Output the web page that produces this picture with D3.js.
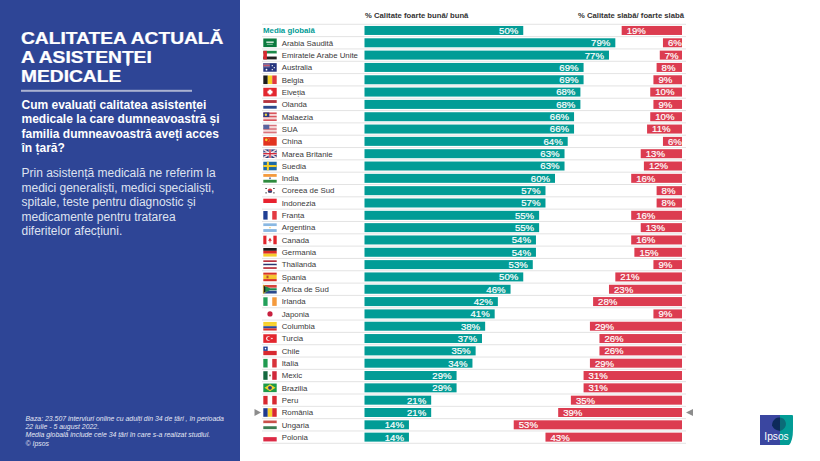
<!DOCTYPE html>
<html>
<head>
<meta charset="utf-8">
<script src="https://cdn.jsdelivr.net/npm/d3@7"></script>
<style>
  html, body { margin: 0; padding: 0; background: #fff; }
  svg { display: block; font-family: "Liberation Sans", Arial, sans-serif; }
</style>
</head>
<body>
<svg id="chart" width="820" height="461"></svg>
<script>
var countries = ["Media globală","Arabia Saudită","Emiratele Arabe Unite","Australia","Belgia","Elveția","Olanda","Malaezia","SUA","China","Marea Britanie","Suedia","India","Coreea de Sud","Indonezia","Franța","Argentina","Canada","Germania","Thailanda","Spania","Africa de Sud","Irlanda","Japonia","Columbia","Turcia","Chile","Italia","Mexic","Brazilia","Peru","România","Ungaria","Polonia"]
var goodValues = [50,79,77,69,69,68,68,66,66,64,63,63,60,57,57,55,55,54,54,53,50,46,42,41,38,37,35,34,29,29,21,21,14,14]
var poorValues = [19,6,7,8,9,10,9,10,11,6,13,12,16,8,8,16,13,16,15,9,21,23,28,9,29,26,26,29,31,31,35,39,53,43]
var goodTitle = "% Calitate foarte bună/ bună"
var poorTitle = "% Calitate slabă/ foarte slabă"
var highlighted = "România"

var titleLines = ["CALITATEA ACTUALĂ","A ASISTENȚEI","MEDICALE"]
var questionLines = ["Cum evaluați calitatea asistenței","medicale la care dumneavoastră și","familia dumneavoastră aveți acces","în țară?"]
var bodyLines = ["Prin asistență medicală ne referim la","medici generaliști, medici specialiști,","spitale, teste pentru diagnostic și","medicamente pentru tratarea","diferitelor afecțiuni."]
var noteLines = ["Baza: 23.507 interviuri online cu adulți din 34 de țări , în perioada","22 iulie - 5 august 2022.","Media globală include cele 34 țări în care s-a realizat studiul.","© Ipsos"]

// stripes of each flag: h = stacked, v = side by side
var flagStripes = {
  "Arabia Saudită": ["h", ["#0b7a3e"]],
  "Emiratele Arabe Unite": ["h", ["#1c8a4a","#ffffff","#222222"]],
  "Australia": ["h", ["#27367f"]],
  "Belgia": ["v", ["#1c1c1c","#f5d327","#e03a3e"]],
  "Elveția": ["h", ["#e3262e"]],
  "Olanda": ["h", ["#b5343f","#ffffff","#2b4a8e"]],
  "Malaezia": ["h", ["#d9545c","#f4d5d5","#d9545c","#f4d5d5","#d9545c"]],
  "SUA": ["h", ["#d9747c","#f4dada","#d9747c","#f4dada","#d9747c"]],
  "China": ["h", ["#e2331f"]],
  "Marea Britanie": ["h", ["#2e3f80"]],
  "Suedia": ["h", ["#1f6aa5"]],
  "India": ["h", ["#f49a3c","#ffffff","#2e8b3d"]],
  "Coreea de Sud": ["h", ["#ffffff"]],
  "Indonezia": ["h", ["#e8222f","#ffffff"]],
  "Franța": ["v", ["#1f3f94","#ffffff","#e33a42"]],
  "Argentina": ["h", ["#8ab8e2","#ffffff","#8ab8e2"]],
  "Canada": ["v", ["#e0252c","#ffffff","#ffffff","#e0252c"]],
  "Germania": ["h", ["#1a1a1a","#dc2a26","#f5cd2a"]],
  "Thailanda": ["h", ["#b8323f","#ffffff","#2b3570","#ffffff","#b8323f"]],
  "Spania": ["h", ["#d8322a","#f5c52c","#f5c52c","#d8322a"]],
  "Africa de Sud": ["h", ["#d7433a","#ffffff","#2b4a8e"]],
  "Irlanda": ["v", ["#22a05a","#ffffff","#f49a3c"]],
  "Japonia": ["h", ["#ffffff"]],
  "Columbia": ["h", ["#f7d02c","#f7d02c","#2a4b9b","#d8322a"]],
  "Turcia": ["h", ["#e3262e"]],
  "Chile": ["h", ["#ffffff","#d8282f"]],
  "Italia": ["v", ["#1f9a4f","#ffffff","#d8323a"]],
  "Mexic": ["v", ["#14693f","#ffffff","#d0283a"]],
  "Brazilia": ["h", ["#1d9a48"]],
  "Peru": ["v", ["#d8282f","#ffffff","#d8282f"]],
  "România": ["v", ["#1f3a8f","#f7d02c","#d8282f"]],
  "Ungaria": ["h", ["#c9504a","#ffffff","#3a7d52"]],
  "Polonia": ["h", ["#ffffff","#dc2a45"]]
}

var svg = d3.select('#chart')
var teal = "#029c96"
var red = "#dc3c50"
var navy = "#2e4596"

// left panel
svg.append('rect').attr('width', 240).attr('height', 461).attr('fill', navy)

function textBlock(lines, x, y, step, size, weight, color, style){
  return svg.append('g').selectAll('text')
    .data(lines)
    .enter()
    .append('text')
    .attr('x', x)
    .attr('y', function(d, i){ return y + i * step })
    .attr('font-size', size)
    .attr('font-weight', weight)
    .attr('font-style', style || 'normal')
    .attr('fill', color)
    .text(function(d){ return d })
}

// the title is a wider face in the original, so stretch it sideways
textBlock(titleLines, 0, 44.5, 18.7, 16, 'bold', '#ffffff')
  .attr('stroke', '#ffffff')
  .attr('stroke-width', 0.25)
  .attr('transform', 'translate(21,0) scale(1.2,1)')
svg.append('rect').attr('x', 21).attr('y', 89.8).attr('width', 171).attr('height', 2).attr('fill', '#aab2d2')
textBlock(questionLines, 21.5, 109, 14.4, 12, 'bold', '#ffffff')
textBlock(bodyLines, 21.5, 177, 14.5, 12, 'normal', '#dfe2f0')
textBlock(noteLines, 25.5, 421, 8.2, 6.9, 'normal', '#e4e7f3', 'italic')

// chart scales
var x = d3.scaleLinear().domain([0, 100]).range([0, 317.5])
var y = d3.scaleBand().domain(countries).range([24.3, 443.3])
var barHeight = 9
var goodLeft = 364.5
var poorRight = 682

svg.append('text').attr('x', 365).attr('y', 18).attr('font-size', 7.7).attr('font-weight', 'bold').attr('fill', '#333').text(goodTitle)
svg.append('text').attr('x', 684).attr('y', 18).attr('text-anchor', 'end').attr('font-size', 7.7).attr('font-weight', 'bold').attr('fill', '#333').text(poorTitle)

// separators, one at the top of each row and one closing the table
svg.append('g').selectAll('line')
  .data(countries.concat(['end']))
  .enter()
  .append('line')
  .attr('x1', 262)
  .attr('x2', 686)
  .attr('y1', function(d, i){ return y.range()[0] + i * y.step() })
  .attr('y2', function(d, i){ return y.range()[0] + i * y.step() })
  .attr('stroke', '#dcdcdc')
  .attr('stroke-width', 0.8)

var rows = svg.append('g').selectAll('g')
  .data(countries)
  .enter()
  .append('g')
  .attr('transform', function(d){ return 'translate(0,' + (y(d) + y.bandwidth() / 2) + ')' })

rows.append('text')
  .attr('x', function(d, i){ return i == 0 ? 263 : 281.7 })
  .attr('y', 2.8)
  .attr('font-size', 7.85)
  .attr('font-weight', function(d, i){ return i == 0 ? 'bold' : 'normal' })
  .attr('fill', function(d, i){ return i == 0 ? teal : '#3a3a3a' })
  .text(function(d){ return d })

rows.append('rect')
  .attr('x', goodLeft)
  .attr('y', -barHeight / 2)
  .attr('width', function(d, i){ return x(goodValues[i]) })
  .attr('height', barHeight)
  .attr('fill', teal)

rows.append('rect')
  .attr('x', function(d, i){ return poorRight - x(poorValues[i]) })
  .attr('y', -barHeight / 2)
  .attr('width', function(d, i){ return x(poorValues[i]) })
  .attr('height', barHeight)
  .attr('fill', red)

rows.append('text')
  .attr('x', function(d, i){ return goodLeft + x(goodValues[i]) - 5 })
  .attr('y', 3.4)
  .attr('text-anchor', 'end')
  .attr('font-size', 9.6)
  .attr('fill', '#fff')
  .attr('stroke', '#fff')
  .attr('stroke-width', 0.2)
  .text(function(d, i){ return goodValues[i] + '%' })

rows.append('text')
  .attr('x', function(d, i){ return poorRight - x(poorValues[i]) + 5 })
  .attr('y', 3.4)
  .attr('font-size', 9.6)
  .attr('fill', '#fff')
  .attr('stroke', '#fff')
  .attr('stroke-width', 0.2)
  .text(function(d, i){ return poorValues[i] + '%' })

// flags
var flagW = 13.4
var flagH = 8.6

rows.filter(function(d){ return flagStripes[d] })
  .each(function(d){
    var g = d3.select(this).append('g').attr('transform', 'translate(263.3,' + (-flagH / 2) + ')')
    var spec = flagStripes[d]
    var band = d3.scaleBand().domain(d3.range(spec[1].length)).range([0, spec[0] == 'h' ? flagH : flagW])
    g.selectAll('rect')
      .data(spec[1])
      .enter()
      .append('rect')
      .attr('x', function(c, i){ return spec[0] == 'h' ? 0 : band(i) })
      .attr('y', function(c, i){ return spec[0] == 'h' ? band(i) : 0 })
      .attr('width', spec[0] == 'h' ? flagW : band.bandwidth())
      .attr('height', spec[0] == 'h' ? band.bandwidth() : flagH)
      .attr('fill', function(c){ return c })
    drawFlagDetail(g, d)
  })

function box(g, px, py, w, h, c){
  g.append('rect').attr('x', px).attr('y', py).attr('width', w).attr('height', h).attr('fill', c)
}
function dot(g, px, py, r, c){
  g.append('circle').attr('cx', px).attr('cy', py).attr('r', r).attr('fill', c)
}

// the bits on a flag that are not plain stripes
function drawFlagDetail(g, name){
  if(name == "Arabia Saudită"){ box(g, 3, 3, 7.4, 1.4, '#dff0e5'); box(g, 3.5, 5.4, 6, 0.6, '#dff0e5') }
  if(name == "Emiratele Arabe Unite"){ box(g, 0, 0, 3.6, flagH, '#d8282f') }
  if(name == "Australia"){ box(g, 0, 0, 6.5, 4.3, '#7d6f9e'); box(g, 0, 1.8, 6.5, 0.8, '#e04a55'); dot(g, 9, 2.5, 0.7, '#fff'); dot(g, 11, 4.5, 0.7, '#fff'); dot(g, 9, 6.5, 0.7, '#fff'); dot(g, 3.2, 6.5, 0.9, '#fff') }
  if(name == "Elveția"){ box(g, 5.4, 1.8, 2.6, 5, '#fff'); box(g, 4.2, 3, 5, 2.6, '#fff') }
  if(name == "Malaezia"){ box(g, 0, 0, 6, 4.6, '#2b3a80'); dot(g, 2.6, 2.3, 1.2, '#f3d23c') }
  if(name == "SUA"){ box(g, 0, 0, 6, 4.4, '#5a64a0') }
  if(name == "China"){ dot(g, 3, 2.8, 1.3, '#f6d32c'); dot(g, 5.6, 1.4, 0.45, '#f6d32c'); dot(g, 6.3, 3, 0.45, '#f6d32c'); dot(g, 5.6, 4.6, 0.45, '#f6d32c') }
  if(name == "Marea Britanie"){
    g.append('path').attr('d', 'M0,0L' + flagW + ',' + flagH + 'M' + flagW + ',0L0,' + flagH).attr('stroke', '#efd8dc').attr('stroke-width', 1.5)
    box(g, 0, 3, flagW, 2.6, '#fff'); box(g, 5.4, 0, 2.6, flagH, '#fff')
    box(g, 0, 3.6, flagW, 1.4, '#d0283a'); box(g, 6, 0, 1.4, flagH, '#d0283a')
  }
  if(name == "Suedia"){ box(g, 0, 3.3, flagW, 2, '#f6d02c'); box(g, 3.6, 0, 2, flagH, '#f6d02c') }
  if(name == "India"){ dot(g, 6.7, 4.3, 1, '#6a78b0') }
  if(name == "Coreea de Sud"){
    dot(g, 6.7, 4.3, 2.2, '#d8323a')
    g.append('path').attr('d', 'M4.5,4.3A2.2,2.2 0 0 0 8.9,4.3Z').attr('fill', '#26457f')
    box(g, 2, 1.6, 1.6, 1, '#444'); box(g, 9.8, 1.6, 1.6, 1, '#444'); box(g, 2, 6, 1.6, 1, '#444'); box(g, 9.8, 6, 1.6, 1, '#444')
  }
  if(name == "Argentina"){ dot(g, 6.7, 4.3, 0.7, '#e8c650') }
  if(name == "Canada"){ g.append('path').attr('d', 'M6.7,2L8.6,5L7.1,5.2V6.8H6.3V5.2L4.8,5Z').attr('fill', '#e0252c') }
  if(name == "Spania"){ box(g, 3.2, 3, 2, 2.6, '#b8522a') }
  if(name == "Africa de Sud"){
    g.append('path').attr('d', 'M0,0L6.4,4.3L0,' + flagH + 'Z').attr('fill', '#1e1e1e').attr('stroke', '#f2c830').attr('stroke-width', 0.7)
    g.append('path').attr('d', 'M2,1.2L6.8,3.4H' + flagW + 'V5.2H6.8L2,7.4').attr('fill', '#1d8a4e')
  }
  if(name == "Japonia"){ dot(g, 6.7, 4.3, 2.6, '#c8203f') }
  if(name == "Turcia"){ dot(g, 5, 4.3, 2.2, '#fff'); dot(g, 5.7, 4.3, 1.8, '#e3262e'); dot(g, 8.6, 4.3, 0.8, '#fff') }
  if(name == "Chile"){ box(g, 0, 0, 4.4, 4.3, '#1f3f94'); dot(g, 2.2, 2.1, 0.8, '#fff') }
  if(name == "Mexic"){ dot(g, 6.7, 4.3, 1, '#8a7a4a') }
  if(name == "Brazilia"){
    g.append('path').attr('d', 'M6.7,0.8L12.2,4.3L6.7,7.8L1.2,4.3Z').attr('fill', '#f4d52c')
    dot(g, 6.7, 4.3, 1.9, '#27407f')
  }
}

// arrows pointing at the highlighted row
var hy = y(highlighted) + y.bandwidth() / 2
svg.append('path').attr('d', d3.line()([[254.5, hy - 3.5], [261, hy], [254.5, hy + 3.5]]) + 'Z').attr('fill', '#8c8c8c')
svg.append('path').attr('d', d3.line()([[693, hy - 3.5], [686, hy], [693, hy + 3.5]]) + 'Z').attr('fill', '#8c8c8c')

// Ipsos logo
var logo = svg.append('g').attr('transform', 'translate(760,415)')
logo.append('rect').attr('width', 33).attr('height', 30).attr('fill', teal).attr('rx', 1)
logo.append('path').attr('d', 'M0,0H20V30H0Z').attr('fill', '#3a46a0')
logo.append('path').attr('d', 'M33,0V14Q33,26 29,30H33Z').attr('fill', '#fff')
logo.append('path').attr('d', 'M15.5,3.5A6,6 0 0 1 20,2.5V16Q14,15 12,10.5Q12,6 15.5,3.5Z').attr('fill', '#0d2a5a')
logo.append('path').attr('d', 'M20,2.5A6.5,6.5 0 0 1 23.5,14Q22,15.5 20,16Z').attr('fill', '#0b6b77')
logo.append('text').attr('x', 16.5).attr('y', 25).attr('text-anchor', 'middle').attr('font-size', 10.2).attr('fill', '#fff').text('Ipsos')
</script>
</body>
</html>
